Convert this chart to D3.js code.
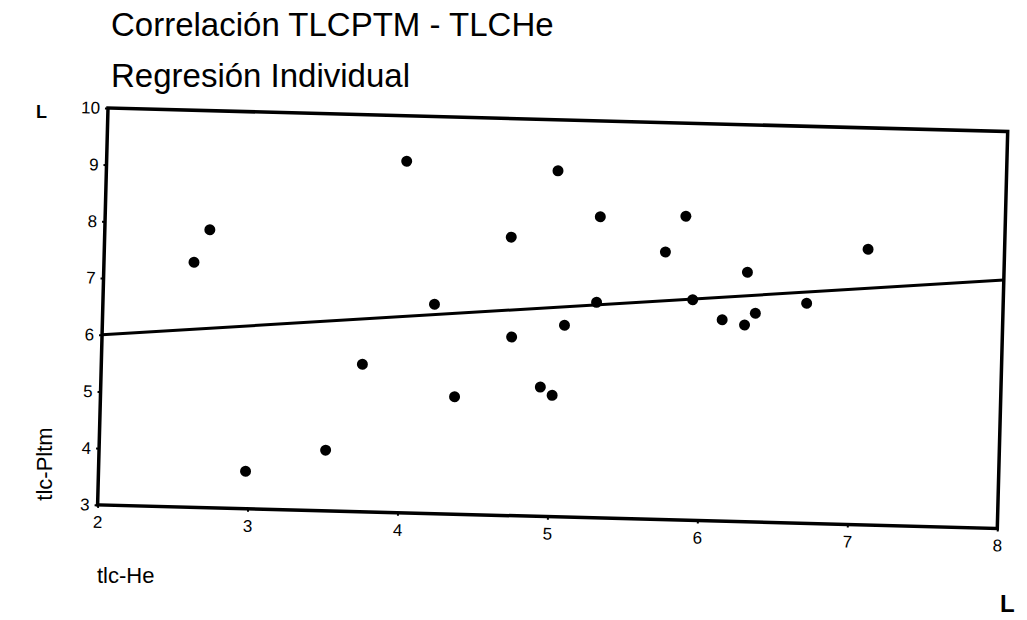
<!DOCTYPE html>
<html>
<head>
<meta charset="utf-8">
<script src="https://cdn.jsdelivr.net/npm/d3@7"></script>
<style>
  body { margin: 0; background: #fff; }
  svg { font-family: "Liberation Sans", Arial, sans-serif; }
  .axis text { font-size: 17px; fill: #000; }
  .axis line { stroke: #000; stroke-width: 2; }
</style>
</head>
<body>
<svg class="chart" width="1027" height="620"></svg>
<script>
// values
var titleText = "Correlación TLCPTM - TLCHe";
var subtitleText = "Regresión Individual";
var xLabel = "tlc-He";
var yLabel = "tlc-Pltm";

var tlcHe   = [4.00, 2.70, 2.60, 4.71, 4.21, 4.73, 3.74, 5.01, 5.30, 5.87, 5.74, 6.29, 7.09,
               5.29, 5.93, 6.69, 5.08, 6.13, 6.28, 6.35, 4.36, 4.93, 5.01, 3.51, 2.98];
var tlcPltm = [9.20, 7.90, 7.32, 7.91, 6.69, 6.15, 5.60, 9.10, 8.31, 8.36, 7.72, 7.40, 7.86,
               6.80, 6.89, 6.88, 6.38, 6.55, 6.47, 6.68, 5.07, 5.28, 5.14, 4.07, 3.66];

// regression line end points
var fitX = [2, 8];
var fitY = [6.0, 7.38];

var xTicks = [2, 3, 4, 5, 6, 7, 8];
var yTicks = [3, 4, 5, 6, 7, 8, 9, 10];

var svg = d3.select(".chart"),
    margin = {top: 108, left: 108},
    width = 900,
    height = 397;

var x = d3.scaleLinear().domain([2, 8]).range([0, width]);
var y = d3.scaleLinear().domain([3, 10]).range([height, 0]);

// titles (not skewed in the scan)
svg.append("text")
    .attr("x", 111).attr("y", 36)
    .style("font-size", "33px")
    .text(titleText);

svg.append("text")
    .attr("x", 111).attr("y", 87)
    .style("font-size", "33px")
    .text(subtitleText);

// the plot area sits slightly rotated on the page
var g = svg.append("g")
    .attr("transform", "translate(" + margin.left + "," + margin.top + ") rotate(1.5)");

g.append("g")
    .attr("class", "x axis")
    .attr("transform", "translate(0," + height + ")")
    .call(d3.axisBottom(x).tickValues(xTicks).tickSize(3).tickSizeOuter(0).tickPadding(8)
        .tickFormat(d3.format("d")));

g.append("g")
    .attr("class", "y axis")
    .call(d3.axisLeft(y).tickValues(yTicks).tickSize(3).tickSizeOuter(0).tickPadding(5)
        .tickFormat(d3.format("d")));

g.selectAll(".axis .domain").remove();

// frame
g.append("rect")
    .attr("x", 0).attr("y", 0)
    .attr("width", width).attr("height", height)
    .attr("fill", "none")
    .attr("stroke", "#000")
    .attr("stroke-width", 3.5);

// regression line
g.append("line")
    .attr("x1", x(fitX[0])).attr("y1", y(fitY[0]))
    .attr("x2", x(fitX[1])).attr("y2", y(fitY[1]))
    .attr("stroke", "#000")
    .attr("stroke-width", 3);

g.selectAll(".dot")
    .data(d3.range(tlcHe.length))
  .enter().append("circle")
    .attr("class", "dot")
    .attr("cx", function(i) { return x(tlcHe[i]); })
    .attr("cy", function(i) { return y(tlcPltm[i]); })
    .attr("r", 5.5)
    .attr("fill", "#000");

// axis labels
svg.append("text")
    .attr("x", 97).attr("y", 583)
    .style("font-size", "22px")
    .text(xLabel);

svg.append("text")
    .attr("transform", "translate(52,464) rotate(-90)")
    .style("text-anchor", "middle")
    .style("font-size", "22px")
    .text(yLabel);

// corner marks from the scan
svg.append("text")
    .attr("x", 36).attr("y", 118)
    .style("font-size", "18px").style("font-weight", "bold")
    .text("L");

svg.append("text")
    .attr("x", 1000).attr("y", 612)
    .style("font-size", "24px").style("font-weight", "bold")
    .text("L");
</script>
</body>
</html>
